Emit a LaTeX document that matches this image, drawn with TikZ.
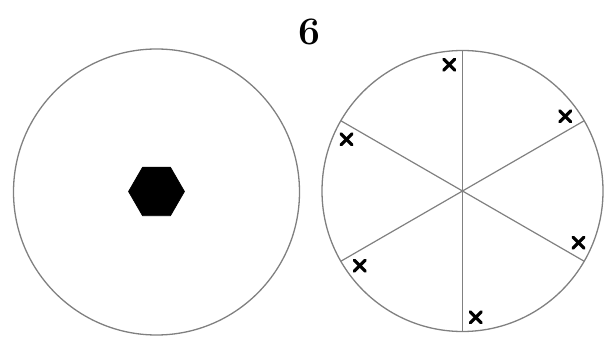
\documentclass[tikz,border=0pt]{standalone}
\usetikzlibrary{calc}
\tikzset{
  rim/.style={draw=black!50, line width=1.3pt},
  spoke/.style={draw=black!50, line width=1.2pt},
  xmark/.style={draw=black, line width=3.2pt, line cap=round},
  hexfill/.style={fill=black, draw=black, line width=0.6pt, line join=round}
}
\begin{document}
\begin{tikzpicture}[x=1pt,y=1pt]
  \useasboundingbox (0,0) rectangle (607,337);
  % title
  \node (title) at (309,305) {\fontsize{39}{39}\selectfont\bfseries 6};
  % left circle
  \coordinate (lc) at (156.5,145);
  \draw[rim] (lc) circle[radius=143];
  \fill[hexfill] ($(lc)+(0,0.5)$) ++(0:28) -- ++(120:28) -- ++(180:28) -- ++(240:28) -- ++(300:28) -- ++(0:28) -- cycle;
  % right circle
  \coordinate (rc) at (462.5,146);
  \draw[rim] (rc) circle[radius=140.5];
  \foreach \a in {30,90,150,210,270,330}{
    \draw[spoke] (rc) -- ($(rc)+(\a:140.5)$);
    \coordinate (m) at ($(rc)+(\a+6:127)$);
    \draw[xmark] ($(m)+(-5.5,-5.5)$) -- ($(m)+(5.5,5.5)$);
    \draw[xmark] ($(m)+(-5.5,5.5)$) -- ($(m)+(5.5,-5.5)$);
  }
\end{tikzpicture}
\end{document}
